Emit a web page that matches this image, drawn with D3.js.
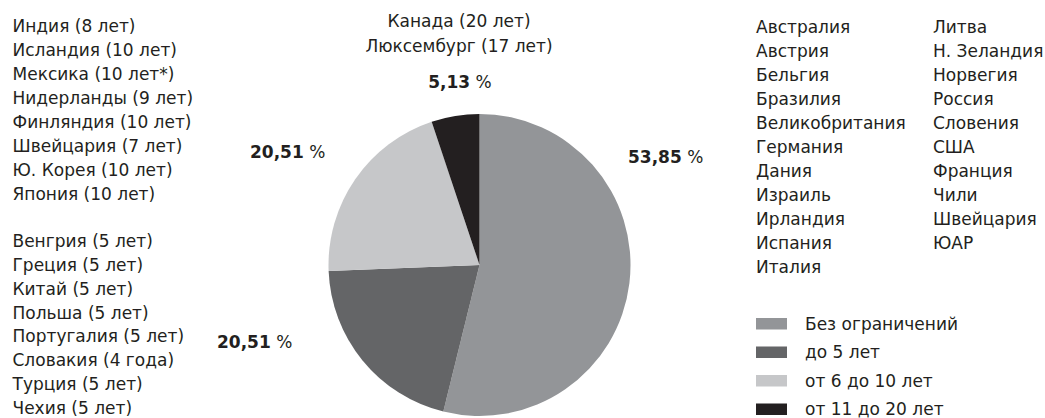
<!DOCTYPE html>
<html><head><meta charset="utf-8">
<script src="https://cdn.jsdelivr.net/npm/d3@7"></script>
<style>body{margin:0;background:#fff}svg{display:block}</style>
</head><body><svg id="c" width="1045" height="418"></svg>
<script>
const categories = ["Без ограничений", "до 5 лет", "от 6 до 10 лет", "от 11 до 20 лет"];
const values = [53.85, 20.51, 20.51, 5.13];
const valueLabels = ["53,85", "20,51", "20,51", "5,13"];
const colors = ["#939598", "#646567", "#c6c7c9", "#231f20"];
const group6to10 = ["Индия (8 лет)", "Исландия (10 лет)", "Мексика (10 лет*)", "Нидерланды (9 лет)", "Финляндия (10 лет)", "Швейцария (7 лет)", "Ю. Корея (10 лет)", "Япония (10 лет)"];
const groupTo5 = ["Венгрия (5 лет)", "Греция (5 лет)", "Китай (5 лет)", "Польша (5 лет)", "Португалия (5 лет)", "Словакия (4 года)", "Турция (5 лет)", "Чехия (5 лет)"];
const group11to20 = ["Канада (20 лет)", "Люксембург (17 лет)"];
const noLimitCol1 = ["Австралия", "Австрия", "Бельгия", "Бразилия", "Великобритания", "Германия", "Дания", "Израиль", "Ирландия", "Испания", "Италия"];
const noLimitCol2 = ["Литва", "Н. Зеландия", "Норвегия", "Россия", "Словения", "США", "Франция", "Чили", "Швейцария", "ЮАР"];

const svg = d3.select("#c");
const FONT = "DejaVu Sans, sans-serif";
const FS = 17;
const ink = "#231f20";

const cx = 479.5, cy = 265, R = 151;
const pie = d3.pie().sort(null).value(d => d);
const arc = d3.arc().innerRadius(0).outerRadius(R);
const g = svg.append("g").attr("transform", `translate(${cx},${cy})`);
g.selectAll("path").data(pie(values)).join("path")
  .attr("d", arc).attr("fill", (d, i) => colors[i]);

function list(arr, x, y0, step, anchor) {
  svg.append("g").selectAll("text").data(arr).join("text")
    .attr("x", x).attr("y", (d, i) => y0 + i * step)
    .attr("font-family", FONT).attr("font-size", FS).attr("fill", ink)
    .attr("text-anchor", anchor || "start")
    .text(d => d);
}
list(group6to10, 12.5, 31.5, 24);
list(groupTo5, 12.5, 247, 23.85);
list(group11to20, 459, 27, 25, "middle");
list(noLimitCol1, 756, 33, 24);
list(noLimitCol2, 933, 33, 24);

// percentage labels
const labelPos = [[628, 163, "start"], [217, 348, "start"], [250, 157.5, "start"], [460, 88, "middle"]];
valueLabels.forEach((v, i) => {
  const t = svg.append("text").attr("x", labelPos[i][0]).attr("y", labelPos[i][1])
    .attr("text-anchor", labelPos[i][2])
    .attr("font-family", FONT).attr("font-size", FS).attr("fill", ink);
  t.append("tspan").attr("font-weight", "bold").text(v);
  t.append("tspan").text(" %");
});

// legend
const leg = svg.append("g");
categories.forEach((c, i) => {
  const y = 318 + i * 28.5;
  leg.append("rect").attr("x", 756).attr("y", y).attr("width", 31).attr("height", 11.5).attr("fill", colors[i]);
  leg.append("text").attr("x", 805).attr("y", y + 11.5)
    .attr("font-family", FONT).attr("font-size", FS).attr("fill", ink).text(c);
});
</script></body></html>
